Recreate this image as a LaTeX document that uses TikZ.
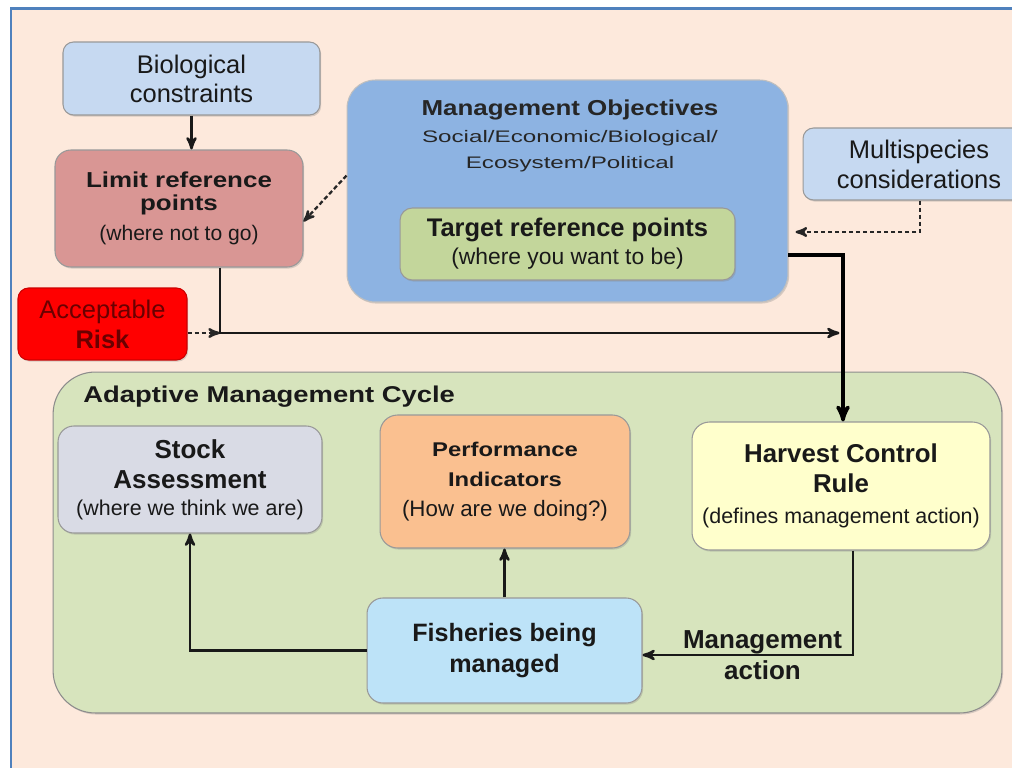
\documentclass[tikz,border=0pt]{standalone}
\usepackage{fontspec}
\setmainfont{Liberation Sans}
\newfontfamily\widefont[FakeStretch=1.2]{Liberation Sans}
\newfontfamily\widerfont[FakeStretch=1.45]{Liberation Sans}
\usetikzlibrary{arrows}
\usetikzlibrary{shadows}

\definecolor{pagebg}{HTML}{FDE9DC}
\definecolor{frameblue}{HTML}{4F81BD}
\definecolor{biofill}{HTML}{C6D9F1}
\definecolor{limitfill}{HTML}{D99694}
\definecolor{mgmtfill}{HTML}{8DB3E2}
\definecolor{targetfill}{HTML}{C3D69B}
\definecolor{riskfill}{HTML}{FF0000}
\definecolor{risktext}{HTML}{6A0000}
\definecolor{cyclefill}{HTML}{D7E4BD}
\definecolor{stockfill}{HTML}{D9DBE5}
\definecolor{perffill}{HTML}{FAC090}
\definecolor{hcrfill}{HTML}{FFFFCC}
\definecolor{fishfill}{HTML}{BDE3F8}

\newcommand{\setfs}[2]{\fontsize{#1}{#2}\selectfont}

\begin{document}
\begin{tikzpicture}[x=0.02cm, y=-0.02cm,
    box/.style={draw=black!40, line width=0.6pt, align=center, inner sep=0pt, text=black!90,
        drop shadow={shadow xshift=0.7pt, shadow yshift=-0.9pt, opacity=0.3}},
    link/.style={line width=1.4pt, black!90, ->, >=stealth'},
    dashlink/.style={line width=1.3pt, black!85, dash pattern=on 2.5pt off 1.5pt, ->, >=stealth'},
    mainlink/.style={line width=2pt, ->, >=stealth'}]
    \path[use as bounding box, fill=white] (0,0) rectangle (1012,768);
    \fill[pagebg] (11,8.5) rectangle (1012,768);
    \draw[frameblue, line width=1.2pt] (1012,8.5) -- (11,8.5) -- (11,768);

    \node[box, fill=biofill, rounded corners=6pt, minimum width=5.14cm, minimum height=1.46cm, font=\setfs{14.5}{16.5}] (bio) at (191.5,78.5) {Biological\\constraints};
    \node[box, fill=limitfill, rounded corners=9pt, minimum width=4.96cm, minimum height=2.34cm, font=\widefont\bfseries\setfs{12.3}{13}] (limit) at (179,208.5) {Limit reference\\points\\[4pt]{\normalfont\setfs{12}{13}(where not to go)}};
    \node[box, fill=mgmtfill, draw=black!25, rounded corners=16pt, minimum width=8.82cm, minimum height=4.44cm] (mgmt) at (567.5,191) {};
    \node[align=center, inner sep=0pt, text=black!85, font=\widerfont\setfs{9.5}{15.3}] (mgmttxt) at (570,136) {{\widefont\bfseries\setfs{12.3}{15.3}Management Objectives}\\Social/Economic/Biological/\\Ecosystem/Political};
    \node[box, fill=targetfill, rounded corners=7pt, minimum width=6.7cm, minimum height=1.44cm, font=\setfs{13}{16}] (target) at (567.5,244) {{\bfseries\setfs{14.5}{16}Target reference points}\\(where you want to be)};
    \node[box, fill=biofill, rounded corners=6pt, minimum width=4.64cm, minimum height=1.44cm, font=\setfs{14.5}{17}] (multi) at (919,164) {Multispecies\\considerations};
    \node[box, fill=riskfill, draw=riskfill!80!black, rounded corners=6pt, minimum width=3.38cm, minimum height=1.44cm, text=risktext, font=\setfs{14.5}{17}] (risk) at (102.5,324) {Acceptable\\\textbf{Risk}};

    \node[box, fill=cyclefill, draw=black!45, rounded corners=24pt, minimum width=18.98cm, minimum height=6.82cm] (amc) at (527.5,542.5) {};
    \node[anchor=base west, inner sep=0pt, text=black!90, font=\widefont\bfseries\setfs{13}{15}] (amctxt) at (83,402) {Adaptive Management Cycle};
    \node[box, fill=stockfill, rounded corners=9pt, minimum width=5.28cm, minimum height=2.14cm, font=\bfseries\setfs{14.8}{17}] (stock) at (190,479.5) {Stock\\Assessment\\[-1.5pt]{\normalfont\setfs{12.2}{15}(where we think we are)}};
    \node[box, fill=perffill, rounded corners=10pt, minimum width=5cm, minimum height=2.66cm, font=\widefont\bfseries\setfs{11.3}{17}] (perf) at (505,481.5) {Performance\\Indicators\\{\normalfont\setfs{12.7}{17}(How are we doing?)}};
    \node[box, fill=hcrfill, rounded corners=10pt, minimum width=5.96cm, minimum height=2.56cm, font=\bfseries\setfs{14.7}{17}] (hcr) at (841,486) {Harvest Control\\Rule\\[1pt]{\normalfont\setfs{12.2}{15}(defines management action)}};
    \node[box, fill=fishfill, rounded corners=9pt, minimum width=5.5cm, minimum height=2.1cm, font=\bfseries\setfs{14.3}{18}] (fish) at (504.5,650.5) {Fisheries being\\managed};

    \coordinate (mbend) at (920,232);
    \coordinate (merge) at (220,333);
    \coordinate (bend) at (843,255);
    \coordinate (act) at (853,655);

    \draw[link] (bio.south) -- (bio.south |- limit.north);
    \draw[dashlink] (mgmt.176) -- (limit.354);
    \draw[dashlink, shorten >=4pt] (mbend |- multi.south) -- (mbend) -- (mbend -| mgmt.east);
    \draw[dashlink] (risk.east |- merge) -- (merge);
    \draw[link, shorten >=2pt] (merge |- limit.south) -- (merge) -- (merge -| bend);
    \draw[mainlink] (bend -| mgmt.east) -- (bend) -- (bend |- hcr.north);
    \draw[link] (fish.west) -- (stock.south |- fish.west) -- (stock.south);
    \draw[link] (fish.north) -- (fish.north |- perf.south);
    \draw[link] (act |- hcr.south) -- (act) -- node[pos=0.43, align=center, inner sep=0pt, text=black!90, font=\bfseries\setfs{14.8}{17.5}] (actlbl) {Management\\action} (act -| fish.east);
\end{tikzpicture}
\end{document}
